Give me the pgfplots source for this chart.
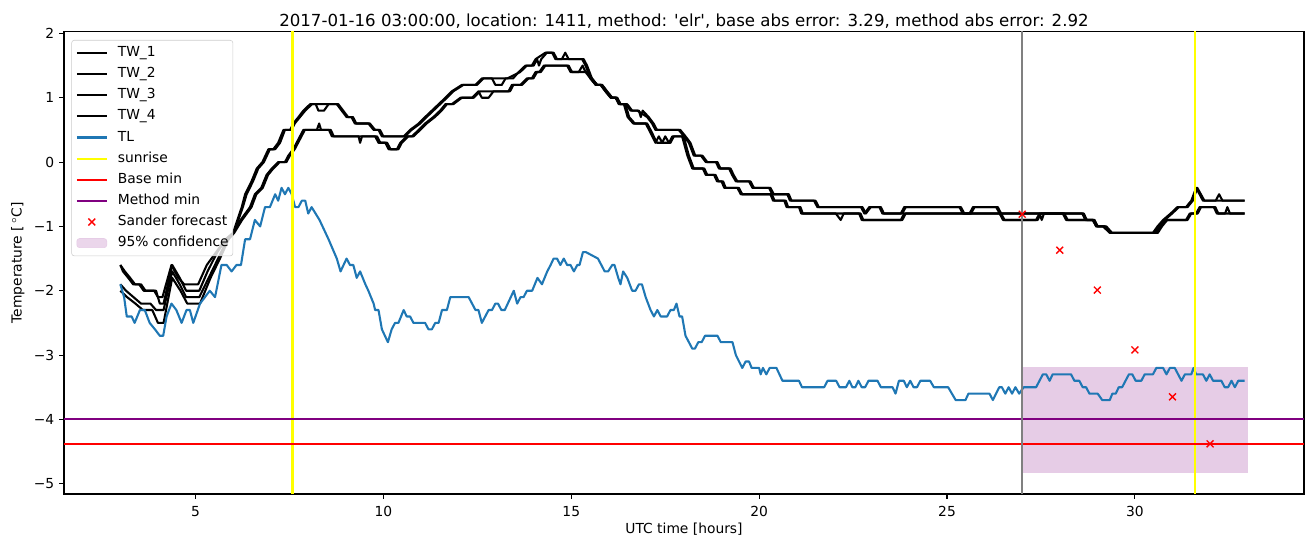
\documentclass[border=0pt]{standalone}
\usepackage{pgfplots}
\usepackage{pgfplotstable}
\pgfplotsset{compat=1.18}
\usepackage{fontspec}
\setmainfont{DejaVu Sans}
\definecolor{tlblue}{HTML}{1F77B4}
\definecolor{confcol}{RGB}{230,204,230}
\definecolor{mpurple}{HTML}{800080}
\definecolor{mgray}{HTML}{808080}
\definecolor{myellow}{HTML}{FFFF00}
\pgfplotsset{legend image code/.code={\draw[#1] (0bp,0bp) -- (21.6bp,0bp);}}
\pgfplotsset{markleg/.style={legend image code/.code={\draw[##1] plot[only marks] coordinates {(10.8bp,0bp)};}}}

\pgfplotstableread{
x y
3.00 -1.9
3.10 -2.1
3.17 -2.4
3.30 -2.4
3.38 -2.5
3.52 -2.3
3.65 -2.3
3.78 -2.5
3.92 -2.6
4.05 -2.7
4.14 -2.7
4.23 -2.4
4.36 -2.2
4.49 -2.3
4.63 -2.5
4.76 -2.3
4.85 -2.3
4.94 -2.5
5.12 -2.2
5.25 -2.1
5.38 -2.0
5.52 -2.1
5.69 -1.6
5.83 -1.6
5.96 -1.7
6.09 -1.6
6.21 -1.6
6.32 -1.2
6.45 -1.2
6.58 -0.9
6.72 -1.0
6.85 -0.7
6.98 -0.7
7.12 -0.5
7.20 -0.6
7.29 -0.4
7.38 -0.5
7.47 -0.4
7.56 -0.5
7.65 -0.7
7.74 -0.7
7.83 -0.6
7.92 -0.6
8.00 -0.8
8.09 -0.7
8.30 -0.9
8.54 -1.2
8.76 -1.5
8.86 -1.7
9.02 -1.5
9.11 -1.6
9.20 -1.6
9.29 -1.8
9.38 -1.7
9.52 -1.9
9.60 -2.0
9.74 -2.2
9.78 -2.3
9.87 -2.3
9.96 -2.6
10.12 -2.8
10.22 -2.6
10.31 -2.5
10.40 -2.5
10.54 -2.3
10.62 -2.4
10.71 -2.4
10.80 -2.5
11.11 -2.5
11.20 -2.6
11.29 -2.6
11.38 -2.5
11.47 -2.5
11.56 -2.3
11.69 -2.3
11.78 -2.1
12.27 -2.1
12.45 -2.3
12.53 -2.3
12.62 -2.5
12.80 -2.3
12.89 -2.3
12.98 -2.2
13.05 -2.2
13.14 -2.3
13.23 -2.3
13.47 -2.0
13.56 -2.2
13.65 -2.1
13.73 -2.1
13.82 -2.0
13.96 -2.0
14.10 -1.8
14.22 -1.9
14.36 -1.7
14.45 -1.6
14.53 -1.5
14.62 -1.5
14.71 -1.6
14.80 -1.5
14.89 -1.6
14.98 -1.6
15.07 -1.7
15.16 -1.6
15.22 -1.6
15.31 -1.4
15.39 -1.4
15.71 -1.5
15.89 -1.7
15.98 -1.7
16.09 -1.6
16.15 -1.6
16.25 -1.8
16.31 -1.9
16.38 -1.7
16.49 -1.8
16.62 -2.0
16.71 -2.0
16.80 -1.9
16.88 -1.9
16.98 -2.1
17.11 -2.3
17.20 -2.4
17.29 -2.3
17.38 -2.4
17.55 -2.4
17.64 -2.3
17.73 -2.3
17.80 -2.2
17.88 -2.4
17.95 -2.4
18.04 -2.7
18.22 -2.9
18.29 -2.9
18.38 -2.8
18.47 -2.8
18.56 -2.7
18.89 -2.7
18.98 -2.8
19.29 -2.8
19.38 -3.0
19.55 -3.2
19.64 -3.1
19.73 -3.1
19.80 -3.2
20.00 -3.2
20.04 -3.3
20.10 -3.2
20.19 -3.3
20.28 -3.2
20.46 -3.2
20.62 -3.4
21.06 -3.4
21.14 -3.5
21.73 -3.5
21.82 -3.4
22.05 -3.4
22.14 -3.5
22.31 -3.5
22.40 -3.4
22.48 -3.5
22.56 -3.5
22.64 -3.4
22.73 -3.5
22.82 -3.5
22.91 -3.4
23.15 -3.4
23.24 -3.5
23.55 -3.5
23.63 -3.6
23.72 -3.4
23.85 -3.4
23.93 -3.5
24.02 -3.4
24.11 -3.5
24.20 -3.5
24.29 -3.4
24.55 -3.4
24.65 -3.5
25.03 -3.5
25.23 -3.7
25.49 -3.7
25.57 -3.6
26.13 -3.6
26.22 -3.7
26.39 -3.5
26.46 -3.5
26.55 -3.6
26.64 -3.5
26.73 -3.6
26.82 -3.5
26.92 -3.6
27.04 -3.5
27.37 -3.5
27.55 -3.3
27.64 -3.3
27.73 -3.4
27.81 -3.3
28.30 -3.3
28.39 -3.4
28.52 -3.4
28.61 -3.5
28.70 -3.5
28.79 -3.6
29.01 -3.6
29.13 -3.7
29.33 -3.7
29.40 -3.6
29.49 -3.6
29.57 -3.5
29.66 -3.5
29.84 -3.3
29.93 -3.3
30.02 -3.4
30.17 -3.4
30.26 -3.3
30.48 -3.3
30.57 -3.2
30.75 -3.2
30.84 -3.3
30.93 -3.2
31.06 -3.2
31.24 -3.4
31.33 -3.3
31.50 -3.3
31.56 -3.2
31.63 -3.3
31.81 -3.3
31.90 -3.4
31.99 -3.3
32.08 -3.4
32.30 -3.4
32.39 -3.5
32.48 -3.5
32.57 -3.4
32.66 -3.5
32.75 -3.4
32.92 -3.4
}\tl

\pgfplotstableread{
x y
3.00 -1.6
3.07 -1.7
3.21 -1.8
3.34 -1.9
3.50 -1.9
3.62 -2.0
3.90 -2.0
4.00 -2.1
4.12 -2.1
4.36 -1.6
4.54 -1.8
4.70 -1.9
5.07 -1.9
5.30 -1.6
5.55 -1.4
5.80 -1.2
6.00 -1.1
6.23 -0.7
6.32 -0.5
6.49 -0.3
6.63 -0.1
6.78 0.0
6.94 0.2
7.07 0.2
7.20 0.3
7.34 0.5
7.52 0.5
7.60 0.6
7.74 0.7
7.87 0.8
8.05 0.9
8.20 0.9
8.27 0.8
8.42 0.8
8.54 0.9
8.76 0.9
8.89 0.8
9.02 0.7
9.15 0.7
9.24 0.6
9.60 0.6
9.74 0.5
9.87 0.5
9.96 0.4
10.54 0.4
10.71 0.5
10.94 0.6
11.11 0.7
11.29 0.8
11.47 0.9
11.65 1.0
11.82 1.1
12.09 1.2
12.45 1.2
12.62 1.3
12.89 1.3
12.98 1.2
13.15 1.2
13.25 1.3
13.45 1.3
13.60 1.4
13.78 1.5
13.95 1.5
14.05 1.6
14.31 1.7
14.49 1.7
14.58 1.6
14.75 1.6
14.84 1.7
14.93 1.6
15.29 1.6
15.38 1.5
15.51 1.3
15.65 1.2
15.78 1.2
15.91 1.1
16.05 1.0
16.18 1.0
16.27 0.9
16.45 0.9
16.58 0.8
16.76 0.8
17.02 0.7
17.15 0.6
17.24 0.5
17.86 0.5
18.00 0.4
18.13 0.3
18.26 0.1
18.45 0.1
18.58 0.0
18.85 0.0
18.93 -0.1
19.20 -0.1
19.28 -0.2
19.38 -0.3
19.73 -0.3
19.82 -0.4
20.26 -0.4
20.35 -0.5
20.75 -0.5
20.82 -0.6
21.46 -0.6
21.55 -0.7
22.71 -0.7
22.80 -0.8
22.93 -0.7
23.20 -0.7
23.28 -0.8
23.77 -0.8
23.86 -0.7
25.33 -0.7
25.42 -0.8
25.60 -0.8
25.69 -0.7
26.31 -0.7
26.40 -0.8
28.60 -0.8
28.68 -0.9
28.88 -0.9
28.97 -1.0
29.15 -1.0
29.33 -1.1
30.48 -1.1
30.60 -1.0
30.75 -0.9
30.95 -0.8
31.13 -0.7
31.36 -0.7
31.50 -0.6
31.63 -0.4
31.81 -0.6
32.15 -0.6
32.24 -0.5
32.33 -0.6
32.92 -0.6
}\twone

\pgfplotstableread{
x y
3.00 -1.6
3.12 -1.7
3.26 -1.8
3.39 -1.9
3.55 -1.9
3.67 -2.0
3.95 -2.0
4.05 -2.2
4.15 -2.2
4.38 -1.6
4.58 -1.8
4.75 -2.0
5.10 -2.0
5.32 -1.7
5.58 -1.4
5.82 -1.2
6.02 -1.1
6.26 -0.7
6.36 -0.5
6.53 -0.3
6.67 -0.1
6.82 0.0
6.98 0.2
7.12 0.2
7.25 0.3
7.38 0.5
7.56 0.5
7.64 0.6
7.78 0.7
7.92 0.8
8.10 0.9
8.36 0.9
8.54 0.9
8.80 0.9
8.93 0.8
9.06 0.7
9.19 0.7
9.28 0.6
9.64 0.6
9.78 0.5
9.91 0.5
10.00 0.4
10.58 0.4
10.75 0.5
10.98 0.6
11.15 0.7
11.33 0.8
11.51 0.9
11.69 1.0
11.86 1.1
12.13 1.2
12.49 1.2
12.66 1.3
13.30 1.3
13.64 1.4
13.82 1.5
14.00 1.5
14.09 1.6
14.14 1.5
14.20 1.6
14.35 1.7
14.53 1.7
14.62 1.6
14.98 1.6
15.20 1.6
15.33 1.6
15.42 1.5
15.55 1.3
15.69 1.2
15.82 1.2
15.95 1.1
16.09 1.0
16.22 1.0
16.31 0.9
16.49 0.9
16.62 0.8
16.80 0.8
16.85 0.7
16.90 0.8
17.06 0.7
17.19 0.6
17.28 0.5
17.90 0.5
18.04 0.4
18.17 0.3
18.30 0.1
18.49 0.1
18.62 0.0
18.89 0.0
18.97 -0.1
19.24 -0.1
19.32 -0.2
19.42 -0.3
19.77 -0.3
19.86 -0.4
20.30 -0.4
20.39 -0.5
20.79 -0.5
20.86 -0.6
21.50 -0.6
21.59 -0.7
22.75 -0.7
22.84 -0.8
22.97 -0.7
23.24 -0.7
23.32 -0.8
23.81 -0.8
23.90 -0.7
25.37 -0.7
25.46 -0.8
25.64 -0.8
25.73 -0.7
26.35 -0.7
26.44 -0.8
27.46 -0.8
27.52 -0.9
27.58 -0.8
28.64 -0.8
28.72 -0.9
28.92 -0.9
29.01 -1.0
29.19 -1.0
29.37 -1.1
30.52 -1.1
30.64 -1.0
30.79 -0.9
30.99 -0.8
31.17 -0.7
31.40 -0.7
31.54 -0.6
31.66 -0.4
31.85 -0.6
32.92 -0.6
}\twtwo

\pgfplotstableread{
x y
3.00 -1.9
3.15 -2.0
3.35 -2.1
3.55 -2.2
3.80 -2.2
3.95 -2.3
4.15 -2.3
4.38 -1.7
4.58 -1.9
4.75 -2.1
5.10 -2.1
5.35 -1.8
5.60 -1.5
5.85 -1.2
6.00 -1.1
6.20 -0.9
6.45 -0.7
6.58 -0.5
6.75 -0.4
6.89 -0.2
7.03 -0.1
7.20 0.0
7.38 0.0
7.47 0.1
7.60 0.2
7.69 0.3
7.87 0.5
8.23 0.5
8.29 0.6
8.34 0.5
8.55 0.5
8.63 0.4
9.34 0.4
9.38 0.3
9.43 0.4
9.78 0.4
9.87 0.3
10.05 0.3
10.14 0.2
10.36 0.2
10.45 0.3
10.62 0.4
10.76 0.4
10.94 0.5
11.11 0.6
11.33 0.7
11.51 0.8
11.65 0.9
11.82 0.9
12.05 1.0
12.36 1.0
12.53 1.1
12.62 1.0
12.80 1.0
12.93 1.1
13.33 1.1
13.42 1.2
13.65 1.2
13.82 1.3
13.95 1.3
14.05 1.4
14.15 1.4
14.27 1.5
14.89 1.5
14.98 1.4
15.20 1.4
15.30 1.5
15.38 1.4
15.51 1.3
15.65 1.2
15.78 1.2
15.91 1.1
16.05 1.0
16.18 1.0
16.27 0.9
16.40 0.9
16.50 0.7
16.65 0.6
16.98 0.6
17.07 0.5
17.24 0.3
17.33 0.4
17.42 0.3
17.50 0.4
17.60 0.3
17.69 0.4
17.95 0.4
18.09 0.1
18.22 -0.1
18.50 -0.1
18.58 -0.2
18.80 -0.2
18.88 -0.3
19.00 -0.3
19.07 -0.4
19.42 -0.4
19.51 -0.5
20.30 -0.5
20.37 -0.6
20.67 -0.6
20.73 -0.7
21.06 -0.7
21.12 -0.8
22.04 -0.8
22.17 -0.9
22.25 -0.8
22.66 -0.8
22.73 -0.9
23.77 -0.9
23.86 -0.8
26.40 -0.8
26.49 -0.9
27.37 -0.9
27.46 -0.8
28.08 -0.8
28.17 -0.9
28.88 -0.9
28.97 -1.0
29.20 -1.0
29.35 -1.1
30.57 -1.1
30.68 -1.0
30.82 -0.9
31.36 -0.9
31.46 -0.8
31.63 -0.8
31.72 -0.7
32.10 -0.7
32.18 -0.8
32.40 -0.8
32.46 -0.7
32.53 -0.8
32.92 -0.8
}\twthree

\pgfplotstableread{
x y
3.00 -2.0
3.18 -2.1
3.40 -2.2
3.60 -2.3
3.85 -2.3
4.00 -2.5
4.15 -2.5
4.38 -1.8
4.60 -2.0
4.78 -2.2
5.12 -2.2
5.40 -1.8
5.65 -1.5
5.88 -1.2
6.03 -1.1
6.24 -0.9
6.49 -0.7
6.62 -0.5
6.79 -0.4
6.93 -0.2
7.07 -0.1
7.24 0.0
7.42 0.0
7.51 0.1
7.64 0.2
7.73 0.3
7.91 0.5
8.60 0.5
8.68 0.4
9.83 0.4
9.92 0.3
10.10 0.3
10.19 0.2
10.40 0.2
10.49 0.3
10.66 0.4
10.80 0.4
10.98 0.5
11.15 0.6
11.37 0.7
11.55 0.8
11.69 0.9
11.86 0.9
12.09 1.0
12.40 1.0
12.57 1.1
13.37 1.1
13.46 1.2
13.69 1.2
13.86 1.3
13.99 1.3
14.09 1.4
14.19 1.4
14.31 1.5
14.93 1.5
15.02 1.4
15.42 1.4
15.55 1.3
15.69 1.2
15.82 1.2
15.95 1.1
16.09 1.0
16.22 1.0
16.31 0.9
16.44 0.9
16.54 0.7
16.69 0.6
17.02 0.6
17.11 0.5
17.28 0.3
17.64 0.3
17.73 0.4
17.99 0.4
18.13 0.1
18.26 -0.1
18.54 -0.1
18.62 -0.2
18.84 -0.2
18.92 -0.3
19.04 -0.3
19.11 -0.4
19.46 -0.4
19.55 -0.5
20.34 -0.5
20.41 -0.6
20.71 -0.6
20.77 -0.7
21.10 -0.7
21.16 -0.8
22.70 -0.8
22.77 -0.9
23.81 -0.9
23.90 -0.8
26.44 -0.8
26.53 -0.9
27.41 -0.9
27.50 -0.8
28.12 -0.8
28.21 -0.9
28.92 -0.9
29.01 -1.0
29.24 -1.0
29.39 -1.1
30.61 -1.1
30.72 -1.0
30.86 -0.9
31.40 -0.9
31.50 -0.8
31.67 -0.8
31.76 -0.7
32.14 -0.7
32.22 -0.8
32.92 -0.8
}\twfour

\begin{document}
\begin{tikzpicture}
\path[use as bounding box] (0bp,0bp) rectangle (945.36bp,393.84bp);
\begin{axis}[
  at={(46.08bp,38.16bp)}, anchor=south west,
  width=892.8bp, height=333bp, scale only axis,
  xmin=1.5, xmax=34.5, ymin=-5.16, ymax=2.03,
  axis line style={line width=0.8bp},
  every tick/.style={black, line width=0.8bp},
  tick align=outside, major tick length=3.5bp,
  xtick pos=bottom, ytick pos=left,
  xtick={5,10,15,20,25,30}, xticklabels={5,10,15,20,25,30},
  ytick={-5,-4,-3,-2,-1,0,1,2}, yticklabels={−5,−4,−3,−2,−1,0,1,2},
  tick label style={font=\fontsize{10}{12}\selectfont},
  xticklabel style={yshift=-2bp},
  title={2017-01-16 03:00:00, location: 1411, method: \textquotesingle elr\textquotesingle, base abs error: 3.29, method abs error: 2.92},
  every axis title/.style={at={(rel axis cs:0.5,1)}, anchor=base, yshift=3.9bp, font=\fontsize{12}{14}\selectfont},
  xlabel={UTC time [hours]},
  every axis x label/.style={at={(rel axis cs:0.5,-0.0757)}, anchor=center, font=\fontsize{10}{12}\selectfont},
  ylabel={Temperature [\,$^\circ$C]},
  every axis y label/.style={at={(rel axis cs:-0.0372,0.5)}, anchor=center, rotate=90, font=\fontsize{10}{12}\selectfont},
  legend cell align=left,
  legend style={at={(rel axis cs:0.0059,0.9817)}, anchor=north west,
    draw=black!20, fill=white, fill opacity=0.8, text opacity=1,
    rounded corners=2bp, inner xsep=3bp, inner ysep=4.5bp, row sep=5.7bp,
    font=\fontsize{10}{12}\selectfont,
    nodes={inner sep=0bp, text height=7.3bp, text depth=2.2bp}},
]
\addplot[fill=confcol, draw=none, forget plot] coordinates {(27,-4.83) (33,-4.83) (33,-3.19) (27,-3.19)} -- cycle;
\addplot[black, line width=1.5bp, line join=round] table {\twone};
\addlegendentry{\hspace*{7.2bp}TW\_1}
\addplot[black, line width=1.5bp, line join=round] table {\twtwo};
\addlegendentry{\hspace*{7.2bp}TW\_2}
\addplot[black, line width=1.5bp, line join=round] table {\twthree};
\addlegendentry{\hspace*{7.2bp}TW\_3}
\addplot[black, line width=1.5bp, line join=round] table {\twfour};
\addlegendentry{\hspace*{7.2bp}TW\_4}
\addplot[tlblue, line width=1.5bp, line join=round] table {\tl};
\addlegendentry{\hspace*{7.2bp}TL}
\addplot[myellow, line width=1.5bp] coordinates {(7.58,-5.16) (7.58,2.03)};
\addlegendentry{\hspace*{7.2bp}sunrise}
\addplot[myellow, line width=1.5bp, forget plot] coordinates {(31.60,-5.16) (31.60,2.03)};
\addplot[red, line width=1.5bp] coordinates {(1.5,-4.38) (34.5,-4.38)};
\addlegendentry{\hspace*{7.2bp}Base min}
\addplot[mpurple, line width=1.5bp] coordinates {(1.5,-4.0) (34.5,-4.0)};
\addlegendentry{\hspace*{7.2bp}Method min}
\addplot[red, only marks, mark=x, mark size=3.5bp, mark options={line width=1bp}, markleg] coordinates {(27,-0.81) (28,-1.37) (29,-1.99) (30,-2.92) (31,-3.65) (32,-4.38)};
\addlegendentry{\hspace*{7.2bp}Sander forecast}
\addplot[mgray, line width=1.5bp, forget plot] coordinates {(27,-5.16) (27,2.03)};
\addlegendimage{legend image code/.code={\fill[confcol] (0bp,-3.3bp) rectangle (21.6bp,3.3bp);}}
\addlegendentry{\hspace*{7.2bp}95\% confidence}
\end{axis}
\end{tikzpicture}
\end{document}
